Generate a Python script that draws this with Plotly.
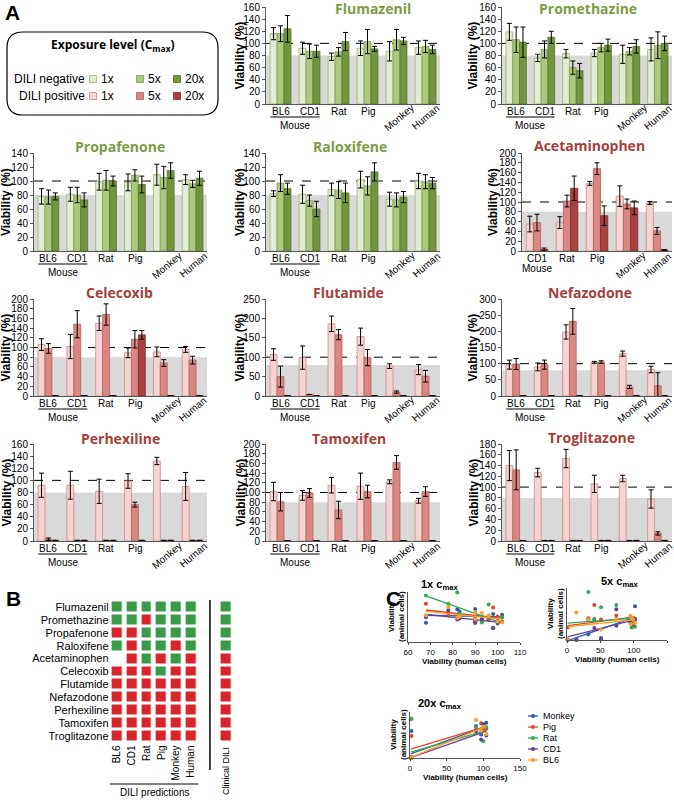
import numpy as np
import plotly.graph_objects as go

W, H = 674, 800

SPECIES = ['BL6', 'CD1', 'Rat', 'Pig', 'Monkey', 'Human']
SPECIES_APAP = ['CD1', 'Rat', 'Pig', 'Monkey', 'Human']
DOSES = ['1x', '5x', '20x']

# mean viability (%), one list per dose (1x, 5x, 20x)
FLUMAZENIL = [[116, 92, 78, 92, 87, 93], [116, 87, 86, 103, 106, 95], [124, 87, 103, 91, 104, 90]]
FLUMAZENIL_SD = [[10, 10, 6, 12, 16, 11], [13, 12, 7, 20, 17, 10], [22, 10, 15, 4, 6, 7]]
PROMETHAZINE = [[119, 76, 83, 84, 82, 90], [106, 90, 60, 93, 87, 97], [102, 110, 55, 97, 95, 100]]
PROMETHAZINE_SD = [[14, 6, 7, 6, 15, 19], [21, 14, 11, 7, 6, 22], [25, 10, 12, 10, 11, 12]]
PROPAFENONE = [[78, 81, 99, 98, 109, 102], [77, 80, 101, 108, 105, 96], [78, 73, 100, 95, 115, 104]]
PROPAFENONE_SD = [[11, 10, 12, 12, 15, 7], [10, 11, 14, 8, 16, 5], [5, 10, 7, 12, 11, 10]]
RALOXIFENE = [[82, 81, 88, 102, 74, 100], [97, 72, 87, 93, 73, 99], [89, 60, 83, 113, 77, 97]]
RALOXIFENE_SD = [[4, 13, 9, 12, 10, 11], [12, 8, 12, 13, 10, 10], [8, 11, 14, 13, 8, 8]]
ACETAMINOPHEN = [[55, 58, 138, 112, 98], [58, 102, 168, 96, 41], [3, 128, 72, 88, 2]]
ACETAMINOPHEN_SD = [[16, 12, 4, 21, 3], [17, 12, 12, 10, 7], [3, 25, 20, 14, 1]]
CELECOXIB = [[106, 102, 150, 89, 91, 96], [98, 148, 168, 117, 68, 74], [1, 1, 1, 126, 1, 1]]
CELECOXIB_SD = [[12, 25, 15, 10, 10, 6], [10, 28, 22, 18, 7, 8], [0, 0, 0, 9, 0, 0]]
FLUTAMIDE = [[107, 99, 186, 153, 77, 68], [50, 4, 158, 99, 10, 51], [1, 1, 1, 1, 1, 1]]
FLUTAMIDE_SD = [[15, 30, 20, 22, 6, 13], [27, 0, 13, 21, 3, 15], [0, 0, 0, 0, 0, 0]]
NEFAZODONE = [[97, 90, 198, 104, 131, 82], [99, 97, 231, 105, 28, 32], [1, 1, 1, 1, 1, 1]]
NEFAZODONE_SD = [[14, 12, 22, 3, 8, 10], [17, 14, 40, 4, 5, 40], [0, 0, 0, 0, 0, 0]]
PERHEXILINE = [[92, 92, 82, 99, 132, 90], [3, 1, 1, 60, 1, 1], [1, 1, 1, 1, 1, 1]]
PERHEXILINE_SD = [[20, 23, 20, 12, 6, 23], [2, 0, 0, 4, 0, 0], [0, 0, 0, 0, 0, 0]]
TAMOXIFEN = [[102, 94, 115, 113, 122, 83], [81, 99, 64, 102, 162, 102], [1, 1, 1, 1, 1, 1]]
TAMOXIFEN_SD = [[19, 10, 16, 27, 4, 5], [19, 9, 18, 13, 14, 10], [0, 0, 0, 0, 0, 0]]
TROGLITAZONE = [[140, 127, 153, 106, 116, 78], [132, 1, 1, 1, 1, 14], [1, 1, 1, 1, 1, 1]]
TROGLITAZONE_SD = [[28, 8, 17, 16, 6, 17], [37, 0, 0, 0, 0, 3], [0, 0, 0, 0, 0, 0]]

# panel B: 1 = DILI negative (green), 0 = positive (red), None = not tested
DRUGS_B = ['Flumazenil', 'Promethazine', 'Propafenone', 'Raloxifene', 'Acetaminophen', 'Celecoxib',
           'Flutamide', 'Nefazodone', 'Perhexiline', 'Tamoxifen', 'Troglitazone']
PREDICTIONS = [[1, 1, 1, 1, 1, 1], [1, 1, 0, 1, 1, 1], [0, 0, 1, 1, 1, 1], [1, 0, 1, 1, 0, 1],
               [None, 0, 1, 0, 1, 0], [0, 0, 0, 1, 0, 0], [0, 0, 0, 0, 0, 0], [0, 0, 0, 0, 0, 0],
               [0, 0, 0, 0, 0, 0], [0, 0, 0, 0, 0, 0], [0, 0, 0, 0, 0, 0]]
CLINICAL = [1, 1, 1, 1, 0, 0, 0, 0, 0, 0, 0]

GREEN = ['#e2ecd2', '#abc87c', '#739540']
GREEN_EDGE = ['#98b06e', '#7f9d50', '#55742a']
RED = ['#f6d4d3', '#da8784', '#a8423e']
RED_EDGE = ['#c98886', '#b25e5a', '#7b2a27']
FONT = 'Arial'

# name, means, sds, species, negative?, ymax, dtick, x px range, y px range, ytitle x, title (x, y)
PANELS = [
    ('Flumazenil', FLUMAZENIL, FLUMAZENIL_SD, SPECIES, True, 160, 20, (266, 440), (7, 104), 240, (373, 9)),
    ('Promethazine', PROMETHAZINE, PROMETHAZINE_SD, SPECIES, True, 160, 20, (502, 672), (7, 104), 473, (588, 9)),
    ('Propafenone', PROPAFENONE, PROPAFENONE_SD, SPECIES, True, 140, 20, (34, 207), (153, 251), 6, (120, 146)),
    ('Raloxifene', RALOXIFENE, RALOXIFENE_SD, SPECIES, True, 140, 20, (266, 440), (153, 251), 240, (350, 146)),
    ('Acetaminophen', ACETAMINOPHEN, ACETAMINOPHEN_SD, SPECIES_APAP, False, 200, 20, (522, 672), (153, 251), 493, (589, 145)),
    ('Celecoxib', CELECOXIB, CELECOXIB_SD, SPECIES, False, 200, 20, (34, 207), (299, 396), 6, (119, 292)),
    ('Flutamide', FLUTAMIDE, FLUTAMIDE_SD, SPECIES, False, 250, 50, (266, 440), (299, 396), 240, (349, 292)),
    ('Nefazodone', NEFAZODONE, NEFAZODONE_SD, SPECIES, False, 300, 50, (502, 672), (299, 396), 473, (590, 292)),
    ('Perhexiline', PERHEXILINE, PERHEXILINE_SD, SPECIES, False, 160, 20, (34, 207), (444, 541), 6, (120, 438)),
    ('Tamoxifen', TAMOXIFEN, TAMOXIFEN_SD, SPECIES, False, 200, 20, (266, 440), (444, 541), 240, (349, 438)),
    ('Troglitazone', TROGLITAZONE, TROGLITAZONE_SD, SPECIES, False, 180, 20, (502, 672), (444, 541), 473, (591, 437)),
]


def px(v):
    return v / W


def py(v):
    return 1 - v / H


def ax_names(n):
    if n == 1:
        return 'x', 'y', 'xaxis', 'yaxis'
    return f'x{n}', f'y{n}', f'xaxis{n}', f'yaxis{n}'


ann = []


def label(text, x, y, size=10, bold=False, family=FONT, color='black', xref='paper', yref='paper',
          xanchor='center', yanchor='middle', **kw):
    if bold:
        text = f'<b>{text}</b>'
    ann.append(dict(text=text, x=x, y=y, xref=xref, yref=yref, xanchor=xanchor, yanchor=yanchor,
                    showarrow=False, font=dict(size=size, family=family, color=color), **kw))


fig = go.Figure()
layout = {}
shapes = []

for i, (name, means, sds, species, neg, ymax, dtick, xr, yr, ytx, tpos) in enumerate(PANELS):
    xa, ya, xk, yk = ax_names(i + 1)
    fills = GREEN if neg else RED
    edges = GREEN_EDGE if neg else RED_EDGE
    for d in range(3):
        fig.add_trace(go.Bar(
            x=species, y=means[d], xaxis=xa, yaxis=ya, showlegend=False,
            offsetgroup=str(d), name=DOSES[d],
            marker=dict(color=fills[d], line=dict(color=edges[d], width=0.8)),
            error_y=dict(type='data', array=sds[d], color='black', thickness=1, width=2.5)))
    layout[xk] = dict(domain=[px(xr[0]), px(xr[1])], anchor=ya, type='category', automargin=False,
                      range=[-0.5, len(species) - 0.5], showticklabels=False,
                      showline=True, linecolor='#555', linewidth=1, ticks='',
                      showgrid=False, zeroline=False)
    layout[yk] = dict(domain=[py(yr[1]), py(yr[0])], anchor=xa, range=[0, ymax], automargin=False,
                      dtick=dtick, ticks='outside', ticklen=3, tickcolor='#555',
                      tickfont=dict(size=10, family=FONT, color='black'),
                      showline=True, linecolor='#555', linewidth=1,
                      showgrid=False, zeroline=False)
    shapes.append(dict(type='rect', xref=f'{xa} domain', yref=ya, x0=0, x1=1, y0=0, y1=80,
                       fillcolor='#d9d9d9', line=dict(width=0), layer='below'))
    shapes.append(dict(type='line', xref=f'{xa} domain', yref=ya, x0=0, x1=1, y0=100, y1=100,
                       line=dict(color='black', width=1, dash='dash'), layer='below'))
    label(name, px(tpos[0]), py(tpos[1]), size=14, bold=True, family='Open Sans',
          color='#7d9b45' if neg else '#a6403c')
    label('Viability (%)', px(ytx), py((yr[0] + yr[1]) / 2), size=12, bold=True, textangle=-90)
    # species labels under the axis
    for s in species:
        rot = s in ('Monkey', 'Human')
        label(s, s, py(yr[1] + (14 if rot else 7)), xref=xa, xshift=3 if s == 'Monkey' else 0,
              textangle=-40 if rot else 0)
    if 'BL6' in species:
        shapes.append(dict(type='line', xref=xa, yref='paper', x0=-0.35, x1=1.35,
                           y0=py(yr[1] + 13), y1=py(yr[1] + 13), line=dict(color='black', width=1)))
        label('Mouse', 0.5, py(yr[1] + 21), xref=xa)
    else:
        label('Mouse', 0, py(yr[1] + 17), xref=xa)

# exposure legend box (top-left)
bx0, bx1, by0, by1, r = 7, 218, 32, 115, 16
path = (f'M {px(bx0 + r)},{py(by0)} L {px(bx1 - r)},{py(by0)} Q {px(bx1)},{py(by0)} {px(bx1)},{py(by0 + r)} '
        f'L {px(bx1)},{py(by1 - r)} Q {px(bx1)},{py(by1)} {px(bx1 - r)},{py(by1)} '
        f'L {px(bx0 + r)},{py(by1)} Q {px(bx0)},{py(by1)} {px(bx0)},{py(by1 - r)} '
        f'L {px(bx0)},{py(by0 + r)} Q {px(bx0)},{py(by0)} {px(bx0 + r)},{py(by0)} Z')
shapes.append(dict(type='path', xref='paper', yref='paper', path=path, line=dict(color='black', width=1.2)))
label('Exposure level (C<sub>max</sub>)', px(113), py(45), size=12, bold=True, family='Open Sans')
for text, fills, edges, yy in [('DILI negative', GREEN, GREEN_EDGE, 79),
                               ('DILI positive', RED, RED_EDGE, 96)]:
    label(text, px(87), py(yy), size=12, xanchor='right')
    for d, sx in enumerate([93, 140, 177]):
        shapes.append(dict(type='rect', xref='paper', yref='paper', x0=px(sx - 3.5), x1=px(sx + 3.5),
                           y0=py(yy + 3.5), y1=py(yy - 3.5), fillcolor=fills[d],
                           line=dict(color=edges[d], width=0.8)))
        label(DOSES[d], px(sx + 6), py(yy), size=12, xanchor='left')

# panel letters
for letter, lx, ly in [('A', 12, 13), ('B', 13, 598), ('C', 393, 598)]:
    label(letter, px(lx), py(ly), size=21, bold=True)

# ---- panel B ----
cs = [[0, '#d7262b'], [1, '#3a9a48']]
CLIN_X = 7.36
fig.add_trace(go.Heatmap(z=PREDICTIONS, x=list(range(6)), y=DRUGS_B, xaxis='x12', yaxis='y12',
                         colorscale=cs, zmin=0, zmax=1, showscale=False, xgap=4.8, ygap=3))
fig.add_trace(go.Heatmap(z=[[c] for c in CLINICAL], x=[CLIN_X], y=DRUGS_B, xaxis='x12', yaxis='y12',
                         colorscale=cs, zmin=0, zmax=1, showscale=False, xgap=4.8, ygap=3))
layout['xaxis12'] = dict(domain=[px(109.6), px(235.4)], anchor='y12', range=[-0.5, 8.0], automargin=False,
                         tickmode='array', tickvals=list(range(6)), ticktext=SPECIES,
                         tickangle=-90, showgrid=False, zeroline=False, showline=False, ticks='',
                         tickfont=dict(size=10, family=FONT, color='black'))
layout['yaxis12'] = dict(domain=[py(742.5), py(600.5)], anchor='x12', autorange='reversed', automargin=False,
                         tickmode='array', tickvals=DRUGS_B, ticktext=DRUGS_B,
                         showgrid=False, zeroline=False, showline=False, ticks='',
                         tickfont=dict(size=11, family=FONT, color='black'))
shapes.append(dict(type='line', xref='x12', yref='paper', x0=6.28, x1=6.28, y0=py(600), y1=py(770),
                   line=dict(color='black', width=1.5)))
shapes.append(dict(type='line', xref='x12', yref='paper', x0=-0.5, x1=5.5, y0=py(784), y1=py(784),
                   line=dict(color='black', width=1)))
label('DILI predictions', 2.5, py(792), xref='x12')
label('Clinical DILI', CLIN_X, py(745), xref='x12', size=9, textangle=-90, yanchor='top')

# ---- panel C ----
C_SPECIES = ['Monkey', 'Pig', 'Rat', 'CD1', 'BL6']
C_COLORS = {'Monkey': '#2f5aa8', 'Pig': '#e2432c', 'Rat': '#33a852', 'CD1': '#6b3d9a', 'BL6': '#f3a12b'}
ALL_MEANS = [p[1] for p in PANELS]
ALL_SPECIES = [p[3] for p in PANELS]

c_axes = [('x13', 'y13', '1x', (408, 520), (592, 642), [60, 110], 10, [0, 200], (440, 585)),
          ('x14', 'y14', '5x', (567, 667), (588, 640), [0, 150], 50, [0, 250], (620, 582)),
          ('x15', 'y15', '20x', (410, 520), (712, 758), [0, 150], 50, [0, 150], (440, 704))]
for k, (xa, ya, dose, xr, yr, xrange_, dt, yrange_, tpos) in enumerate(c_axes):
    for s in C_SPECIES:
        hx, ay = [], []
        for means, sp in zip(ALL_MEANS, ALL_SPECIES):
            if s in sp:
                hx.append(means[k][sp.index('Human')])
                ay.append(means[k][sp.index(s)])
        fig.add_trace(go.Scatter(x=hx, y=ay, mode='markers', xaxis=xa, yaxis=ya, cliponaxis=False,
                                 marker=dict(color=C_COLORS[s], size=4), showlegend=False))
        slope, icpt = np.polyfit(hx, ay, 1)
        lx = [min(hx), max(hx)]
        fig.add_trace(go.Scatter(x=lx, y=[slope * v + icpt for v in lx], mode='lines', xaxis=xa, yaxis=ya,
                                 line=dict(color=C_COLORS[s], width=1.3), showlegend=False))
    layout[f'xaxis{xa[1:]}'] = dict(domain=[px(xr[0]), px(xr[1])], anchor=ya, range=xrange_, dtick=dt,
                                    showline=True, linecolor='#555', ticks='outside', ticklen=2,
                                    showgrid=False, zeroline=False, automargin=False,
                                    tickfont=dict(size=8, family=FONT, color='black'))
    layout[f'yaxis{ya[1:]}'] = dict(domain=[py(yr[1]), py(yr[0])], anchor=xa, range=yrange_,
                                    showline=True, linecolor='#555', ticks='', showticklabels=False,
                                    showgrid=False, zeroline=False, automargin=False)
    label(f'{dose} c<sub>max</sub>', px(tpos[0]), py(tpos[1]), size=11, bold=True)
    label('Viability (human cells)', px((xr[0] + xr[1]) / 2), py(yr[1] + 19), size=8, bold=True)
    label('Viability<br>(animal cells)', px(xr[0] - 12), py((yr[0] + yr[1]) / 2), size=8, bold=True,
          textangle=-90)

# species legend for panel C, drawn by hand for a compact spacing
for j, s in enumerate(C_SPECIES):
    ly = 716 + j * 11
    shapes.append(dict(type='line', xref='paper', yref='paper', x0=px(528), x1=px(538), y0=py(ly), y1=py(ly),
                       line=dict(color=C_COLORS[s], width=1.3)))
    shapes.append(dict(type='circle', xref='paper', yref='paper', x0=px(531), x1=px(535),
                       y0=py(ly - 2), y1=py(ly + 2), fillcolor=C_COLORS[s], line=dict(width=0)))
    label(s, px(541), py(ly), size=9, xanchor='left')

fig.update_layout(
    template='none',
    width=W, height=H, margin=dict(l=0, r=0, t=0, b=0, autoexpand=False),
    paper_bgcolor='white', plot_bgcolor='white', barmode='group', bargap=0.28, bargroupgap=0,
    showlegend=False, annotations=ann, shapes=shapes,
    **layout)

fig.write_html('out.html', config={'displayModeBar': False},
               post_script="document.body.style.margin = '0px';")
